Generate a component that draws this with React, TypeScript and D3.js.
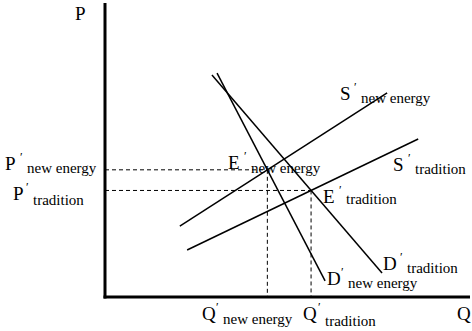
import React from "react";
import * as d3 from "d3";

// Curve endpoints in abstract (Q, P) units
const demandNewQ = [30.7, 60.3];
const demandNewP = [76.7, 5.5];
const demandTradQ = [29.3, 75.9];
const demandTradP = [76.0, 8.2];
const supplyNewQ = [20.5, 77.3];
const supplyNewP = [24.3, 69.9];
const supplyTradQ = [22.5, 85.8];
const supplyTradP = [16.1, 54.1];

const W = 472;
const H = 331;

type Pt = [number, number];

function intersect(a1: Pt, a2: Pt, b1: Pt, b2: Pt): Pt {
  const [x1, y1] = a1, [x2, y2] = a2, [x3, y3] = b1, [x4, y4] = b2;
  const den = (x1 - x2) * (y3 - y4) - (y1 - y2) * (x3 - x4);
  const t = ((x1 - x3) * (y3 - y4) - (y1 - y3) * (x3 - x4)) / den;
  return [x1 + t * (x2 - x1), y1 + t * (y2 - y1)];
}

const font = "Liberation Serif, Times New Roman, DejaVu Serif, serif";

export default function App() {
  const x = d3.scaleLinear().domain([0, 100]).range([105, 470]);
  const y = d3.scaleLinear().domain([0, 100]).range([297, 5]);
  const line = d3.line<Pt>().x((d) => x(d[0])).y((d) => y(d[1]));

  const pts = (qs: number[], ps: number[]): Pt[] => qs.map((q, i) => [q, ps[i]] as Pt);
  const dNew = pts(demandNewQ, demandNewP);
  const dTrad = pts(demandTradQ, demandTradP);
  const sNew = pts(supplyNewQ, supplyNewP);
  const sTrad = pts(supplyTradQ, supplyTradP);

  const eNew = intersect(dNew[0], dNew[1], sNew[0], sNew[1]);
  const eTrad = intersect(dTrad[0], dTrad[1], sTrad[0], sTrad[1]);

  const labels: { lx: number; ly: number; letter: string; sx: number; sy: number; sub: string }[] = [
    { lx: 5, ly: 170, letter: "P", sx: 27, sy: 173, sub: "new energy" },
    { lx: 13, ly: 200, letter: "P", sx: 33, sy: 205, sub: "tradition" },
    { lx: 340, ly: 100, letter: "S", sx: 361, sy: 103, sub: "new energy" },
    { lx: 393, ly: 171, letter: "S", sx: 415, sy: 174, sub: "tradition" },
    { lx: 228, ly: 169, letter: "E", sx: 251, sy: 173, sub: "new energy" },
    { lx: 323, ly: 203, letter: "E", sx: 346, sy: 204, sub: "tradition" },
    { lx: 327, ly: 285, letter: "D", sx: 348, sy: 288, sub: "new energy" },
    { lx: 383, ly: 270, letter: "D", sx: 407, sy: 273, sub: "tradition" },
    { lx: 202, ly: 320, letter: "Q", sx: 223, sy: 324, sub: "new energy" },
    { lx: 303, ly: 320, letter: "Q", sx: 325, sy: 326, sub: "tradition" },
  ];

  const ts = { fontFamily: font };

  return (
    <svg
      width={W}
      height={H}
      style={{ position: "absolute", left: 0, top: 0, background: "#fff" }}
    >
      <rect width={W} height={H} fill="#fff" />
      {[eNew, eTrad].map((e, i) => (
        <g key={i} stroke="#000" strokeWidth={1} strokeDasharray="4,3" fill="none">
          <line x1={x(0)} y1={y(e[1])} x2={x(e[0])} y2={y(e[1])} />
          <line x1={x(e[0])} y1={y(e[1])} x2={x(e[0])} y2={y(0)} />
        </g>
      ))}
      {[dNew, dTrad, sNew, sTrad].map((c, i) => (
        <path key={i} d={line(c) || ""} stroke="#000" strokeWidth={1.5} fill="none" />
      ))}
      <line x1={x(0)} y1={3} x2={x(0)} y2={y(0) + 1.5} stroke="#000" strokeWidth={3} />
      <line x1={x(0) - 1.5} y1={y(0)} x2={470} y2={y(0)} stroke="#000" strokeWidth={3} />
      <text x={75} y={20} fontSize={19} style={ts}>P</text>
      <text x={457} y={320} fontSize={19} style={ts}>Q</text>
      {labels.map((l, i) => (
        <g key={i}>
          <text x={l.lx} y={l.ly} fontSize={19} style={ts}>{l.letter}</text>
          <text x={l.sx - 7} y={l.ly - 9} fontSize={12} style={ts}>′</text>
          <text x={l.sx} y={l.sy} fontSize={15} style={ts}>{l.sub}</text>
        </g>
      ))}
    </svg>
  );
}
